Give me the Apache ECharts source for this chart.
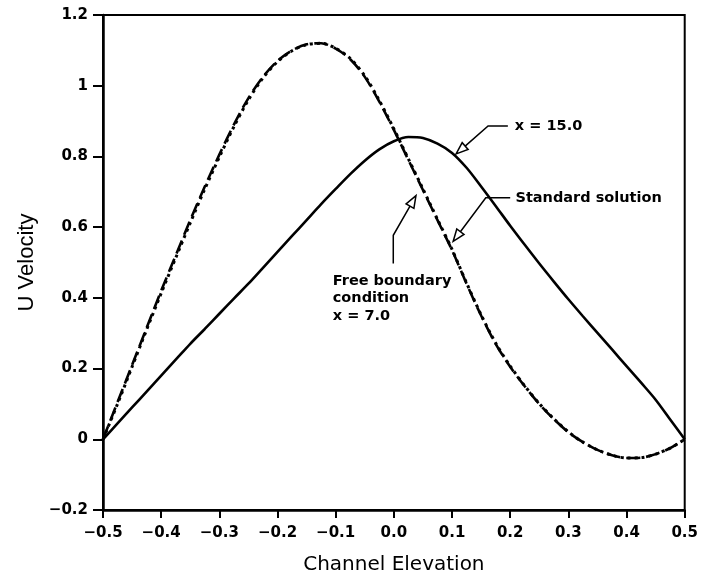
<!DOCTYPE html>
<html><head><meta charset="utf-8">
<script src="https://cdn.jsdelivr.net/npm/echarts@6/dist/echarts.min.js"></script>
<style>html,body{margin:0;padding:0;background:#fff}#c{width:701px;height:580px}</style>
</head><body><div id="c"></div><script>
// ---- data ----
const elevation = [-0.5,-0.475,-0.45,-0.425,-0.4,-0.375,-0.35,-0.325,-0.3,-0.275,-0.25,-0.225,-0.2,-0.175,-0.15,-0.125,-0.1,-0.075,-0.05,-0.025,
  0,0.025,0.05,0.075,0.1,0.125,0.15,0.175,0.2,0.225,0.25,0.275,0.3,0.325,0.35,0.375,0.4,0.425,0.45,0.475,0.5];
const x15 = [0,0.045,0.09,0.135,0.18,0.225,0.27,0.312,0.355,0.398,0.44,0.485,0.53,0.575,0.62,0.665,0.708,0.75,0.788,0.82,
  0.843,0.855,0.852,0.836,0.81,0.768,0.715,0.66,0.604,0.55,0.497,0.446,0.396,0.348,0.301,0.254,0.207,0.16,0.112,0.056,0];
const standard = [0,0.105,0.21,0.315,0.42,0.52,0.62,0.715,0.805,0.89,0.965,1.025,1.07,1.1,1.117,1.12,1.105,1.075,1.025,0.955,
  0.875,0.79,0.705,0.62,0.535,0.44,0.35,0.27,0.205,0.15,0.10,0.057,0.02,-0.008,-0.03,-0.045,-0.053,-0.052,-0.042,-0.025,0];
const freeBnd = [0,0.1,0.205,0.31,0.413,0.513,0.612,0.708,0.798,0.884,0.96,1.022,1.068,1.099,1.116,1.12,1.106,1.077,1.028,0.958,
  0.878,0.793,0.708,0.622,0.537,0.442,0.352,0.272,0.207,0.151,0.101,0.058,0.021,-0.008,-0.03,-0.045,-0.053,-0.052,-0.042,-0.025,0];
const xTickLabels = ['\u22120.5','\u22120.4','\u22120.3','\u22120.2','\u22120.1','0.0','0.1','0.2','0.3','0.4','0.5'];
const yTickLabels = ['\u22120.2','0','0.2','0.4','0.6','0.8','1','1.2'];

const annotations = [
  {lines:['x = 15.0'], at:[0.208,0.886], path:[[0.196,0.886],[0.162,0.886],[0.107,0.807]]},
  {lines:['Standard solution'], at:[0.209,0.683], path:[[0.200,0.683],[0.158,0.683],[0.102,0.560]]},
  {lines:['Free boundary','condition','x = 7.0'], at:[-0.105,0.448], path:[[-0.001,0.497],[-0.001,0.577],[0.038,0.689]]}
];

const pair = ys => elevation.map((x,i)=>[x, ys[i]]);
const chart = echarts.init(document.getElementById('c'), null, {renderer:'canvas'});
const tickFont = {fontFamily:'DejaVu Sans', fontWeight:'bold', fontSize:15, color:'#000'};

chart.setOption({
  animation:false,
  backgroundColor:'#fff',
  grid:{left:103, right:13, top:15, bottom:66, show:true, borderColor:'#000', borderWidth:2},
  xAxis:{type:'value', min:-0.5, max:0.5, interval:0.1,
    name:'Channel Elevation', nameLocation:'middle', nameGap:45,
    nameTextStyle:{fontFamily:'DejaVu Sans', fontSize:20, color:'#000'},
    axisLine:{show:true, onZero:false, lineStyle:{color:'#000', width:2.5}},
    axisTick:{show:true, length:8, lineStyle:{color:'#000', width:2}},
    axisLabel:Object.assign({margin:16, formatter:v=>xTickLabels[Math.round((v+0.5)*10)]}, tickFont),
    splitLine:{show:false}},
  yAxis:{type:'value', min:-0.2, max:1.2, interval:0.2,
    name:'U Velocity', nameLocation:'middle', nameGap:65, nameRotate:90,
    nameTextStyle:{fontFamily:'Liberation Sans', fontSize:22, color:'#000'},
    axisLine:{show:true, onZero:false, lineStyle:{color:'#000', width:2.5}},
    axisTick:{show:true, length:10, lineStyle:{color:'#000', width:2}},
    axisLabel:Object.assign({margin:15, formatter:v=>yTickLabels[Math.round((v+0.2)*5)]}, tickFont),
    splitLine:{show:false}},
  series:[
    {name:'x = 15.0', type:'line', data:pair(x15), smooth:0.3, symbol:'none',
      lineStyle:{color:'#000', width:2.6}},
    {name:'Standard solution', type:'line', data:pair(standard), smooth:0.3, symbol:'none',
      lineStyle:{color:'#000', width:2.6, type:[14,6]}},
    {name:'Free boundary', type:'line', data:pair(freeBnd), smooth:0.3, symbol:'none',
      lineStyle:{color:'#000', width:3, type:[3,4]}},
    {type:'custom', clip:false, z:10, data:annotations.map(()=>[0,0]),
      renderItem:(params, api)=>{
        const a = annotations[params.dataIndex];
        const pts = a.path.map(p=>api.coord(p));
        const P = pts[pts.length-1], Q = pts[pts.length-2];
        let dx=P[0]-Q[0], dy=P[1]-Q[1]; const L=Math.hypot(dx,dy); dx/=L; dy/=L;
        const len=12, w=4.5, bx=P[0]-dx*len, by=P[1]-dy*len;
        const nx=-dy, ny=dx;
        const base = api.coord(a.at);
        const children = [
          {type:'polyline', shape:{points:pts.slice(0,-1).concat([[bx,by]])}, style:{stroke:'#000', lineWidth:1.5, fill:null}},
          {type:'polygon', shape:{points:[P,[bx+nx*w,by+ny*w],[bx-nx*w,by-ny*w]]}, style:{stroke:'#000', lineWidth:1.5, fill:'#fff'}}
        ];
        a.lines.forEach((t,i)=>children.push({type:'text', style:{text:t, x:base[0], y:base[1]+i*17.5,
          font:'bold 14.5px "DejaVu Sans"', fill:'#000', textAlign:'left', textVerticalAlign:'middle'}}));
        return {type:'group', children};
      }}
  ]
});
</script></body></html>
